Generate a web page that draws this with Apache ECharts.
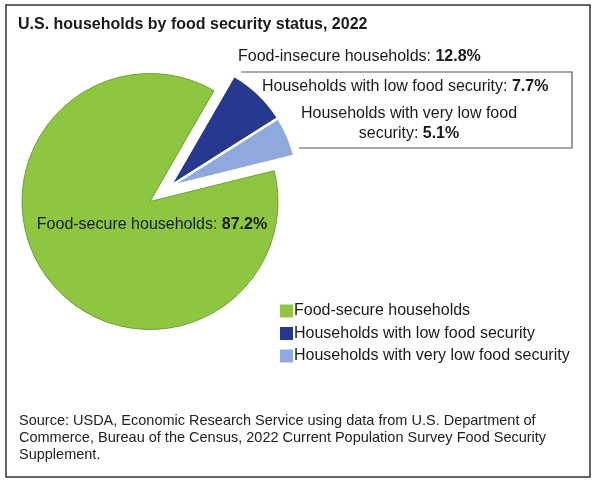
<!DOCTYPE html>
<html>
<head>
<meta charset="utf-8">
<script src="https://cdn.jsdelivr.net/npm/echarts@6/dist/echarts.min.js"></script>
<style>
  html, body { margin: 0; padding: 0; background: #fff; }
  #main { width: 598px; height: 484px; }
</style>
</head>
<body>
<div id="main"></div>
<script>
var myChart = echarts.init(document.getElementById('main'));

// data
var categories = ['Households with low food security', 'Households with very low food security', 'Food-secure households'];
var values = [7.7, 5.1, 87.2];
var colors = ['#27388f', '#8eaadc', '#8dc63f'];
var insecureName = 'Food-insecure households';
var sourceLines = [
    'Source: USDA, Economic Research Service using data from U.S. Department of',
    'Commerce, Bureau of the Census, 2022 Current Population Survey Food Security',
    'Supplement.'
];

var font = 'Liberation Sans, Arial, sans-serif';
var center = [150, 201.5];
var radius = 128;
var startAngle = 60;
var explode = 25; // exploded distance of the food-insecure group

// the two blue slices move out together, along the middle of their group
var total = values.reduce(function (a, b) { return a + b; }, 0);
var insecure = values[0] + values[1];
var midDeg = (90 - startAngle) + insecure / total * 360 / 2; // clockwise from 12 o'clock
var midRad = midDeg * Math.PI / 180;
var center2 = [center[0] + explode * Math.sin(midRad), center[1] - explode * Math.cos(midRad)];

function hidden(name, v) {
    return { name: name, value: v, itemStyle: { color: 'transparent', borderWidth: 0 } };
}

var secureData = [
    hidden('_a', values[0]),
    hidden('_b', values[1]),
    { name: categories[2], value: values[2], itemStyle: { color: colors[2], borderColor: '#6f9f3a', borderWidth: 1 } }
];
var insecureData = [
    { name: categories[0], value: values[0], itemStyle: { color: colors[0] } },
    { name: categories[1], value: values[1], itemStyle: { color: colors[1] } },
    hidden('_c', values[2])
];

var bold = { fontFamily: font, fontSize: 16, fontWeight: 'bold', color: '#1a1a1a' };
var reg = { fontFamily: font, fontSize: 16, color: '#1a1a1a' };

function label(x, y, txt, align) {
    return {
        type: 'text', x: x, y: y, z: 10,
        style: {
            text: txt,
            align: align || 'left',
            verticalAlign: 'middle',
            lineHeight: 20,
            rich: { r: reg, b: bold },
            font: '16px ' + font,
            fill: '#1a1a1a'
        }
    };
}

option = {
    backgroundColor: '#fff',
    animation: false,
    title: {
        text: 'U.S. households by food security status, 2022',
        left: 18,
        top: 17,
        padding: 0,
        textStyle: { fontFamily: font, fontSize: 16, fontWeight: 'bold', color: '#1a1a1a' }
    },
    legend: {
        orient: 'vertical',
        left: 280,
        top: 303,
        padding: 0,
        itemWidth: 13,
        itemHeight: 13,
        itemGap: 6.5,
        icon: 'rect',
        data: [categories[2], categories[0], categories[1]],
        itemStyle: { borderWidth: 0 },
        selectedMode: false,
        textStyle: { fontFamily: font, fontSize: 16, color: '#1a1a1a', lineHeight: 16, padding: [0, 0, 0, -4] }
    },
    graphic: [
        // outer frame
        { type: 'rect', shape: { x: 6, y: 5, width: 584, height: 472 }, style: { fill: 'none', stroke: '#333', lineWidth: 1.5 } },
        // callout box round the food-insecure labels
        { type: 'polyline', shape: { points: [[241, 72], [572, 72], [572, 148], [299, 148]] }, style: { fill: 'none', stroke: '#555', lineWidth: 1.2 } },
        label(238, 57, '{r|' + insecureName + ': }{b|' + insecure.toFixed(1) + '%}'),
        label(262, 87, '{r|' + categories[0] + ': }{b|' + values[0].toFixed(1) + '%}'),
        label(409, 124, '{r|Households with very low food}\n{r|security: }{b|' + values[1].toFixed(1) + '%}', 'center'),
        label(152, 225, '{r|' + categories[2] + ': }{b|' + values[2].toFixed(1) + '%}', 'center'),
        {
            type: 'text', x: 19, y: 412, z: 10,
            style: { text: sourceLines.join('\n'), font: '14.5px ' + font, fill: '#222', lineHeight: 17 }
        }
    ],
    series: [{
        type: 'pie',
        center: center,
        radius: radius,
        startAngle: startAngle,
        label: { show: false },
        labelLine: { show: false },
        emphasis: { disabled: true },
        data: secureData
    }, {
        type: 'pie',
        center: center2,
        radius: radius,
        startAngle: startAngle,
        label: { show: false },
        labelLine: { show: false },
        emphasis: { disabled: true },
        itemStyle: { borderColor: '#fff', borderWidth: 2.5 },
        data: insecureData
    }]
};
myChart.setOption(option);

window.addEventListener('resize', function () {
    myChart.resize();
});
</script>
</body>
</html>
